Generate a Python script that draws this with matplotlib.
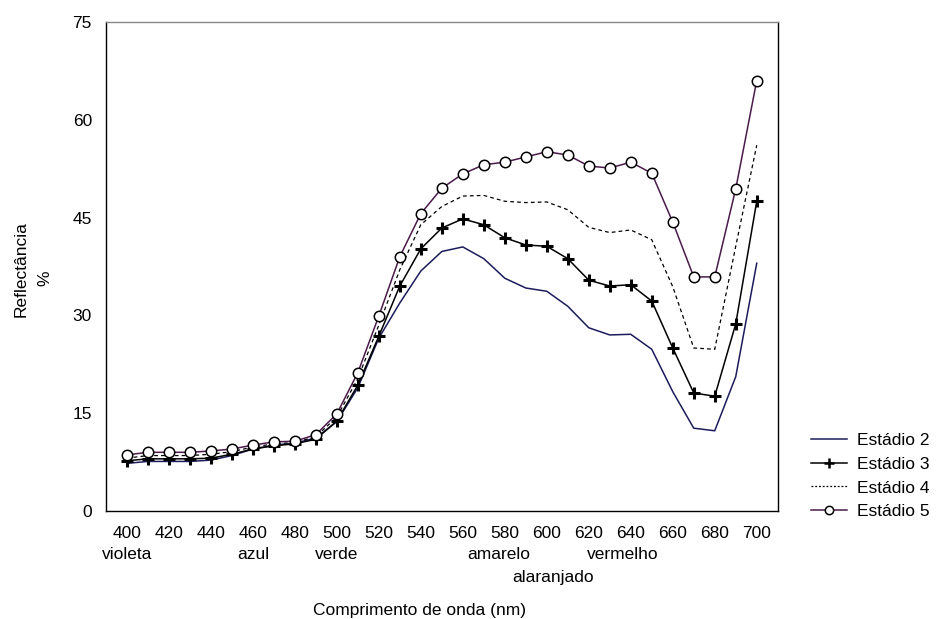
import matplotlib
matplotlib.use("Agg")
import matplotlib.pyplot as plt
import matplotlib.transforms as mtransforms

plt.rcParams['font.family'] = ['Liberation Sans', 'DejaVu Sans']

# data
wavelength = [400, 410, 420, 430, 440, 450, 460, 470, 480, 490, 500, 510, 520, 530, 540,
              550, 560, 570, 580, 590, 600, 610, 620, 630, 640, 650, 660, 670, 680, 690, 700]
estadio2 = [7.3, 7.6, 7.6, 7.6, 7.8, 8.5, 9.5, 10.1, 10.4, 11.2, 13.7, 18.9, 26.5, 31.9, 36.8,
            39.8, 40.5, 38.7, 35.7, 34.2, 33.7, 31.4, 28.1, 27.0, 27.1, 24.8, 18.3, 12.7, 12.3, 20.6, 38.0]
estadio3 = [7.7, 8.0, 8.0, 8.0, 8.1, 8.7, 9.5, 10.0, 10.3, 11.0, 13.8, 19.3, 26.8, 34.5, 40.2,
            43.4, 44.8, 43.9, 41.9, 40.8, 40.6, 38.7, 35.4, 34.5, 34.7, 32.2, 25.0, 18.1, 17.6, 28.7, 47.5]
estadio4 = [8.1, 8.5, 8.5, 8.5, 8.7, 9.1, 9.8, 10.3, 10.5, 11.4, 14.4, 20.3, 28.5, 37.0, 43.9,
            46.7, 48.3, 48.4, 47.5, 47.3, 47.4, 46.2, 43.5, 42.7, 43.1, 41.6, 34.4, 25.0, 24.8, 40.6, 56.1]
estadio5 = [8.6, 9.0, 9.0, 9.0, 9.2, 9.5, 10.1, 10.6, 10.7, 11.7, 14.9, 21.2, 29.9, 39.0, 45.6,
            49.5, 51.7, 53.1, 53.5, 54.3, 55.1, 54.6, 52.9, 52.6, 53.5, 51.8, 44.3, 35.9, 35.9, 49.4, 66.0]

xticks = [400, 420, 440, 460, 480, 500, 520, 540, 560, 580, 600, 620, 640, 660, 680, 700]
yticks = [0, 15, 30, 45, 60, 75]
cores = ['violeta', 'azul', 'verde', 'amarelo', 'vermelho', 'alaranjado']
cores_x = [400, 460, 500, 577, 636, 603]
cores_linha = [0, 0, 0, 0, 0, 1]

fs = 12.5
fig = plt.figure(figsize=(9.45, 6.19), dpi=100)
ax = fig.add_axes([0.112, 0.1745, 0.711, 0.79])

ax.plot(wavelength, estadio2, color='#1c1c5c', lw=1.1, label='Estádio 2')
ax.plot(wavelength, estadio3, color='black', lw=1.1, marker='+', ms=9, mew=2.2, label='Estádio 3')
ax.plot(wavelength, estadio4, color='black', lw=0.9, ls=(0, (3, 2.5)), label='Estádio 4')
ax.plot(wavelength, estadio5, color='#4a1a4a', lw=1.1, marker='o', ms=7.5, mfc='white',
        mec='black', mew=1.1, label='Estádio 5')

ax.set_xlim(390, 710)
ax.set_ylim(0, 75)
ax.set_xticks(xticks)
ax.set_yticks(yticks)
ax.tick_params(length=0, labelsize=fs)
ax.tick_params(axis='x', pad=11)
ax.tick_params(axis='y', pad=10)
for s in ax.spines.values():
    s.set_color('black')
    s.set_linewidth(1)
ax.spines['top'].set_color('#888888')

# colour names below the tick numbers
trans = mtransforms.blended_transform_factory(ax.transData, ax.transAxes)
for nome, xc, ln in zip(cores, cores_x, cores_linha):
    ax.text(xc, -0.088 - 0.047 * ln, nome, transform=trans, ha='center', va='center', fontsize=fs)

fig.text(420 / 945, 0.0145, 'Comprimento de onda (nm)', ha='center', va='center', fontsize=fs)
fig.text(0.022, 0.565, 'Reflectância', rotation=90, ha='center', va='center', fontsize=fs)
fig.text(0.048, 0.55, '%', rotation=90, ha='center', va='center', fontsize=fs)

leg = ax.legend(loc='upper left', bbox_to_anchor=(0.849, 0.315), bbox_transform=fig.transFigure,
                frameon=False, fontsize=fs, handlelength=2.1, labelspacing=0.5,
                handletextpad=0.55, borderpad=0)
leg.legend_handles[1].set_markersize(7)
leg.legend_handles[1].set_markeredgewidth(1.8)
leg.legend_handles[3].set_markersize(6)
leg.legend_handles[2].set_linestyle((0, (1.5, 1.5)))

fig.savefig('out.png', dpi=100)
